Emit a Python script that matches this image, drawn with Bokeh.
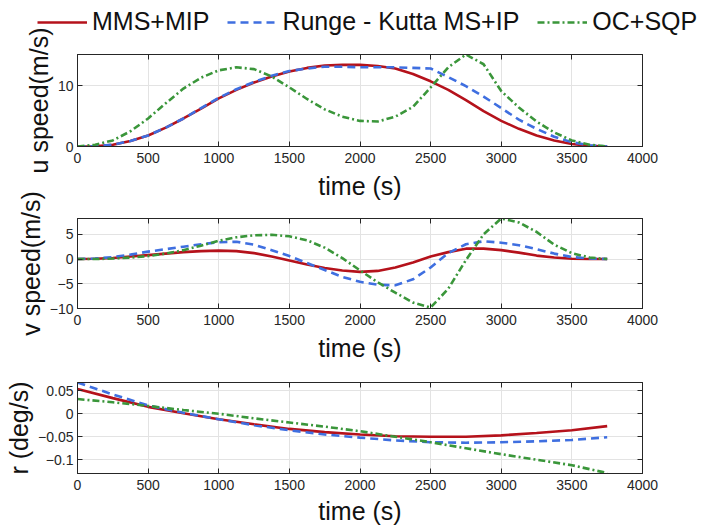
from bokeh.plotting import figure
from bokeh.layouts import column
from bokeh.models import LinearAxis, FixedTicker, Legend, LegendItem, Range1d
from bokeh.embed import file_html
from bokeh.resources import INLINE

# ---------------- data ----------------
t_uv = list(range(0, 3751, 125))
u_mms = [0, 0.05, 0.3, 0.9, 1.8, 3.1, 4.6, 6.2, 7.9, 9.3, 10.5, 11.5, 12.3, 12.9, 13.3, 13.4,
         13.4, 13.2, 12.8, 11.9, 10.7, 9.3, 7.6, 5.8, 4.2, 2.9, 1.8, 1.0, 0.4, 0.1, 0]
u_rk = [0, 0.05, 0.3, 0.9, 1.8, 3.1, 4.6, 6.3, 8.0, 9.4, 10.6, 11.6, 12.4, 12.8, 13.1, 13.1,
        13.0, 13.0, 13.0, 12.9, 12.8, 11.4, 9.9, 8.2, 6.3, 4.4, 2.9, 1.6, 0.7, 0.2, 0]
u_oc = [0, 0.3, 1.0, 2.5, 4.6, 7.1, 9.5, 11.3, 12.5, 13.0, 12.7, 11.5, 9.7, 7.8, 6.1, 4.9,
        4.2, 4.1, 4.9, 6.5, 9.7, 13.0, 15.1, 13.5, 9.1, 6.4, 4.1, 2.3, 1.0, 0.3, 0]

v_mms = [0, 0.05, 0.2, 0.5, 0.8, 1.1, 1.4, 1.6, 1.7, 1.6, 1.2, 0.5, -0.3, -1.1, -1.8, -2.3,
         -2.6, -2.4, -1.7, -0.7, 0.5, 1.4, 2.1, 2.1, 1.8, 1.3, 0.7, 0.3, 0.05, 0, 0]
v_rk = [0, 0.1, 0.4, 0.9, 1.5, 2.0, 2.5, 3.0, 3.4, 3.5, 2.9, 1.8, 0.6, -0.8, -2.2, -3.6,
        -4.6, -5.2, -5.3, -4.1, -1.7, 1.2, 3.0, 3.6, 3.3, 2.8, 2.0, 1.1, 0.4, 0.1, 0]
v_oc = [0, 0.0, 0.1, 0.3, 0.6, 1.1, 1.8, 2.7, 3.7, 4.4, 4.8, 4.9, 4.6, 3.8, 2.3, 0.2,
        -2.3, -4.7, -6.8, -8.8, -9.8, -6.0, -0.2, 5.0, 8.2, 7.4, 5.5, 2.9, 1.2, 0.3, 0]

t_r = list(range(0, 3751, 250))
r_mms = [0.054, 0.034, 0.015, 0.001, -0.012, -0.023, -0.033, -0.040, -0.045, -0.049,
         -0.050, -0.050, -0.047, -0.042, -0.036, -0.027]
r_rk = [0.068, 0.042, 0.018, 0.002, -0.012, -0.025, -0.036, -0.045, -0.052, -0.058,
        -0.062, -0.063, -0.062, -0.060, -0.057, -0.051]
r_oc = [0.032, 0.025, 0.017, 0.008, 0.0, -0.010, -0.019, -0.028, -0.038, -0.050,
        -0.062, -0.075, -0.088, -0.100, -0.112, -0.129]

x_ticks = [0, 500, 1000, 1500, 2000, 2500, 3000, 3500, 4000]
u_ticks = [0, 10]
v_ticks = [-10, -5, 0, 5]
r_ticks = [-0.1, -0.05, 0, 0.05]

series_names = ["MMS+MIP", "Runge - Kutta MS+IP", "OC+SQP"]
colors = ["#B5121B", "#3F6FE0", "#3A963A"]
dashes = ["solid", "8 5", "7 3 2 3"]

FONT = "Liberation Sans"


def make_fig(ymin, ymax, yticks, ylabel, fh, top, bottom, xlab_standoff=6, tick_standoff=6):
    p = figure(frame_width=565, frame_height=fh, output_backend="svg", toolbar_location=None,
               x_range=Range1d(0, 4000), y_range=Range1d(ymin, ymax),
               min_border_left=77, min_border_right=55, min_border_top=top,
               min_border_bottom=bottom, x_axis_label="time (s)", y_axis_label=ylabel)
    p.outline_line_color = "#262626"
    p.outline_line_width = 1
    p.background_fill_color = "white"
    p.border_fill_alpha = 0
    for ax in p.xaxis + p.yaxis:
        ax.major_tick_in = 5
        ax.major_tick_out = 0
        ax.minor_tick_in = 0
        ax.minor_tick_out = 0
        ax.axis_line_color = "#262626"
        ax.major_tick_line_color = "#262626"
        ax.major_label_text_font = FONT
        ax.major_label_text_font_size = "14px"
        ax.major_label_text_color = "#262626"
        ax.axis_label_text_font = FONT
        ax.axis_label_text_font_size = "25px"
        ax.axis_label_text_font_style = "normal"
        ax.axis_label_text_color = "#111111"
    p.xaxis.ticker = FixedTicker(ticks=x_ticks)
    p.yaxis.ticker = FixedTicker(ticks=yticks)
    p.xaxis.major_label_standoff = tick_standoff
    p.xaxis.axis_label_standoff = xlab_standoff
    p.yaxis.major_label_standoff = 4
    p.yaxis.axis_label_standoff = 2
    p.xgrid.ticker = FixedTicker(ticks=x_ticks)
    p.ygrid.ticker = FixedTicker(ticks=yticks)
    for g in (p.xgrid[0], p.ygrid[0]):
        g.grid_line_color = "#E3E3E3"
        g.grid_line_width = 1
    # box ticks on top and right (no labels)
    top_ax = LinearAxis(ticker=FixedTicker(ticks=x_ticks),
                        major_label_overrides={t: "" for t in x_ticks},
                        major_tick_in=5, major_tick_out=0, minor_tick_in=0, minor_tick_out=0,
                        axis_line_color="#262626", major_tick_line_color="#262626",
                        major_label_standoff=0)
    right_ax = LinearAxis(ticker=FixedTicker(ticks=yticks),
                          major_label_overrides={t: "" for t in yticks},
                          major_tick_in=5, major_tick_out=0, minor_tick_in=0, minor_tick_out=0,
                          axis_line_color="#262626", major_tick_line_color="#262626",
                          major_label_standoff=0)
    p.add_layout(top_ax, "above")
    p.add_layout(right_ax, "right")
    return p


p1 = make_fig(0, 15.1, u_ticks, "u speed(m/s)", 92, 36, 59)
p2 = make_fig(-10, 8.2, v_ticks, "v speed(m/s)", 90, 33, 64)
p3 = make_fig(-0.13, 0.068, r_ticks, "r (deg/s)", 91, 10, 54, xlab_standoff=4, tick_standoff=6)
p1.margin = (-18, 0, 0, 0)
p2.margin = (-20, 0, 0, 0)

for ys, c, d in zip([u_mms, u_rk, u_oc], colors, dashes):
    p1.line(t_uv, ys, line_color=c, line_width=2.6, line_dash=d)
for ys, c, d in zip([v_mms, v_rk, v_oc], colors, dashes):
    p2.line(t_uv, ys, line_color=c, line_width=2.6, line_dash=d)
for ys, c, d in zip([r_mms, r_rk, r_oc], colors, dashes):
    p3.line(t_r, ys, line_color=c, line_width=2.6, line_dash=d)

# legend strip on top (its key lines lie outside this strip's visible y range)
p0 = figure(frame_width=697, frame_height=36, output_backend="svg", toolbar_location=None,
            min_border=0, x_axis_location=None, y_axis_location=None,
            x_range=Range1d(0, 4000), y_range=Range1d(1000, 1001))
p0.outline_line_color = None
p0.xgrid.visible = False
p0.ygrid.visible = False
p0.border_fill_alpha = 0
p0.background_fill_alpha = 0
keys = []
for ys, c, d in zip([u_mms, u_rk, u_oc], colors, dashes):
    keys.append(p0.line(t_uv, ys, line_color=c, line_width=2.6, line_dash=d))
legend = Legend(items=[LegendItem(label=n, renderers=[r]) for n, r in zip(series_names, keys)],
                orientation="horizontal", location=(37, 0),
                label_text_font=FONT, label_text_font_size="25px", label_text_color="#111111",
                glyph_width=50, glyph_height=20, label_standoff=5, spacing=18,
                padding=0, margin=0, border_line_color=None, background_fill_alpha=0)
p0.add_layout(legend)

layout = column(p0, p1, p2, p3, spacing=0)
open("out.html", "w").write(file_html(layout, INLINE))
